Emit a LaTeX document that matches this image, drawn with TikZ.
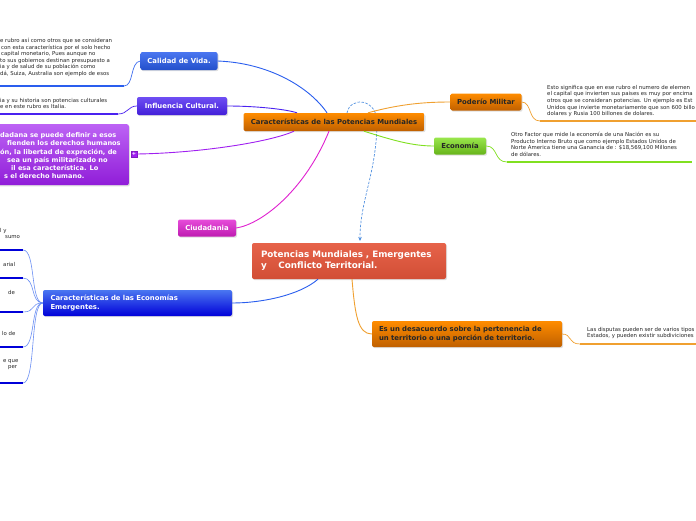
\documentclass[tikz,border=0pt]{standalone}
\usepackage{fontspec}
\setmainfont{DejaVu Sans}
\usetikzlibrary{arrows.meta,shadows}
\definecolor{cblue}{HTML}{2A5EEE}
\definecolor{cindigo}{HTML}{4A22F0}
\definecolor{cviolet}{HTML}{A020F0}
\definecolor{cmag}{HTML}{E020D0}
\definecolor{corange}{HTML}{F0A030}
\definecolor{cgreen}{HTML}{80E020}
\definecolor{cdash}{HTML}{5090E0}
\definecolor{cred}{HTML}{E4553A}
\tikzset{
  box/.style={rounded corners=2pt, inner sep=0pt, font=\bfseries\fontsize{6.9}{8.3}\selectfont,
    drop shadow={opacity=0.25, shadow xshift=1pt, shadow yshift=-1.2pt}},
  orangebox/.style={box, top color=orange!90!yellow, bottom color=orange!75!black, text=black!85},
  leaf/.style={anchor=north west, inner sep=0pt, align=left, font=\fontsize{5.4}{6.6}\selectfont, text=black!85},
  purline/.style={anchor=base west, inner sep=0pt, text=white, font=\bfseries\fontsize{6.6}{8}\selectfont},
  conn/.style={line width=0.9pt},
  uline/.style={line width=2pt}
}
\begin{document}
\begin{tikzpicture}[x=1pt,y=-1pt]
\useasboundingbox (0,0) rectangle (696,520);
\clip (0,0) rectangle (696,520);
\fill[white] (0,0) rectangle (696,520);

% dashed relationship (drawn first, hidden behind hub)
\coordinate (dsA) at (347,113);
\coordinate (dsB) at (377,124);
\coordinate (dsC) at (360,241);
\draw[cdash, line width=0.7pt, dash pattern=on 2.5pt off 1.5pt, -{Stealth[length=4pt,width=3.5pt]}]
  (dsA) .. controls (350,96) and (378,98) .. (dsB) .. controls (376,175) and (360,200) .. (dsC);

% leaf coordinates
\coordinate (ulCal) at (124,86);
\coordinate (ulInf) at (118,114);
\coordinate (ulPod) at (540,121);
\coordinate (ulEco) at (507,162);
\coordinate (ulCon) at (580,344);
\coordinate (ulE1) at (23,250);
\coordinate (ulE2) at (23,278);
\coordinate (ulE3) at (23,312);
\coordinate (ulE4) at (23,347);
\coordinate (ulE5) at (23,383);

% nodes
\node[box, top color=cred!92!white, bottom color=cred!92!black, text=white,
  minimum width=194pt, minimum height=36pt, text width=176pt, align=left, font=\bfseries\fontsize{8.8}{11}\selectfont]
  (c) at (349,261) {Potencias Mundiales , Emergentes\\y\quad\ Conflicto Territorial.};
\node[orangebox, minimum width=181pt, minimum height=18pt] (hub) at (334,122) {Características de las Potencias Mundiales};
\node[box, top color=cblue!85!white, bottom color=cblue!85!black, text=white, minimum width=77pt, minimum height=18pt] (cal) at (179,61) {Calidad de Vida.};
\node[box, top color=cindigo!80!white, bottom color=cindigo!90!black, text=white, minimum width=90pt, minimum height=18pt] (inf) at (182,106) {Influencia Cultural.};
\node[box, top color=cmag!80!white, bottom color=cmag!85!black, text=white, minimum width=58pt, minimum height=17pt] (ciu) at (207,228) {Ciudadania};
\node[orangebox, minimum width=71pt, minimum height=17pt] (pod) at (486,102) {Poderío Militar};
\node[box, top color=cgreen!80!white, bottom color=cgreen!80!black, text=black!85, minimum width=52pt, minimum height=17pt] (eco) at (460,146) {Economía};
\node[box, top color=cblue!85!white, bottom color=blue!85!black, text=white, minimum width=189pt, minimum height=26pt,
  text width=174pt, align=left] (emer) at (137.5,303) {Características de las Economías\\Emergentes.};
\node[orangebox, minimum width=190pt, minimum height=26pt, text width=176pt, align=left]
  (conf) at (467,334) {Es un desacuerdo sobre la pertenencia de\\un territorio o una porción de territorio.};

% purple box (clipped at left)
\node[box, top color=cviolet!70!white, bottom color=cviolet!90!black, anchor=north east,
  minimum width=150pt, minimum height=61pt] (pur) at (129,124) {};
\node[purline] (p1) at (0,137.5) {dadana se puede definir a esos};
\node[purline] (p2) at (7,145.5) {fienden los derechos humanos};
\node[purline] (p3) at (0,154.5) {ón, la libertad de expreción, de};
\node[purline] (p4) at (7,162) {sea un país militarizado no};
\node[purline] (p5) at (11,170.5) {il esa característica. Lo};
\node[purline] (p6) at (4,178.5) {s el derecho humano.};
\node[draw=cviolet!80!black, fill=cviolet, text=white, inner sep=0pt, minimum size=6pt,
  font=\bfseries\fontsize{5}{5}\selectfont] (plus) at (134,154) {+};

% main connectors
\draw[conn, cblue] (cal.east) .. controls (270,63) and (310,88) .. (hub.north west -| 327,0);
\draw[conn, cindigo] (inf.east) .. controls (255,106) and (285,109) .. (hub.north west -| 297,0);
\draw[conn, cviolet] (plus.east) .. controls (200,153) and (270,142) .. (hub.south west -| 294,0);
\draw[conn, cmag] (ciu.east) .. controls (262,224) and (305,190) .. (hub.south west -| 329,0);
\draw[conn, corange] (hub.north east -| 368,0) .. controls (400,104) and (425,102) .. (pod.west);
\draw[conn, cgreen] (hub.south east -| 364,0) .. controls (392,140) and (412,146) .. (eco.west);
\draw[conn, cblue] (c.south west -| 318,0) .. controls (300,295) and (262,303) .. (emer.east);
\draw[conn, corange] (c.south west -| 352,0) .. controls (355,315) and (358,334) .. (conf.west);

% leaf connectors
\draw[cblue!90!white, line width=0.7pt] (ulCal) .. controls (134,86) and (130,62) .. (cal.west);
\draw[cindigo, line width=0.7pt] (ulInf) .. controls (128,114) and (128,106) .. (inf.west);
\draw[corange, line width=0.7pt] (pod.east) .. controls (532,102) and (528,121) .. (ulPod);
\draw[cgreen, line width=0.7pt] (eco.east) .. controls (498,146) and (494,162) .. (ulEco);
\draw[corange, line width=0.7pt] (conf.east) .. controls (572,334) and (568,344) .. (ulCon);
\foreach \u in {ulE1,ulE2,ulE3,ulE4,ulE5}{
  \draw[cblue!70!white, line width=0.6pt] (\u) .. controls (36,0 |- \u) and (30,303) .. (emer.west);
}

% underlines
\draw[uline, cblue] (0,86) -- (ulCal);
\draw[uline, cindigo] (0,114) -- (ulInf);
\draw[uline, corange] (ulPod) -- (696,121);
\draw[uline, cgreen] (ulEco) -- (692,162);
\draw[uline, corange] (ulCon) -- (696,344);
\foreach \u in {ulE1,ulE2,ulE3,ulE4,ulE5}{
  \draw[uline, blue!85!black] (0,0 |- \u) -- (\u);
}

% leaf texts
\node[leaf] (tCal) at (0,38) {e rubro así como otros que se consideran\\
\hspace*{1pt}con esta característica por el solo hecho\\
\hspace*{1pt}capital monetario, Pues aunque no\\
to sus gobiernos destinan presupuesto a\\
ia y de salud de su población como\\
dá, Suiza, Australia son ejemplo de esos};
\node[leaf] (tInf) at (0,98) {ia y su historia son potencias culturales\\e en este rubro es Italia.};
\node[leaf] (tPod) at (547,85) {Esto significa que en ese rubro el numero de elemen\\
el capital que invierten sus paises es muy por encima\\
otros que se consideran potencias. Un ejemplo es Est\\
Unidos que invierte monetariamente que son 600 billo\\
dolares y Rusia 100 billones de dolares.};
\node[leaf] (tEco) at (511,132) {Otro Factor que mide la economía de una Nación es su\\
Producto Interno Bruto que como ejemplo Estados Unidos de\\
Norte America tiene una Ganancia de : \$18,569,100 Millones\\
de dólares.};
\node[leaf] (tCon) at (587,327) {Las disputas pueden ser de varios tipos\\Estados, y pueden existir subdiviciones};
\node[leaf] (tE1) at (0,228) {l y\\\hspace*{5pt}sumo};
\node[leaf] (tE2) at (3,262) {arial};
\node[leaf] (tE3) at (8,290) {de};
\node[leaf] (tE4) at (2,331) {lo de};
\node[leaf] (tE5) at (3,359) {e que\\\hspace*{5pt}per};
\end{tikzpicture}
\end{document}
